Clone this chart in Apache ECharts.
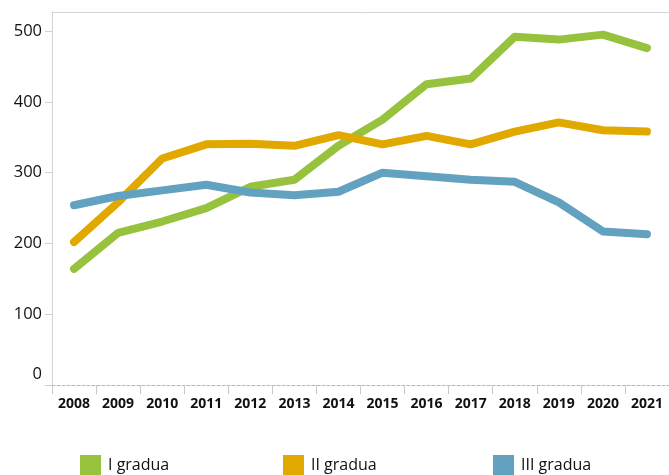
<!DOCTYPE html>
<html>
<head>
<meta charset="utf-8">
<script src="https://cdn.jsdelivr.net/npm/echarts@6/dist/echarts.min.js"></script>
<style>
  html, body { margin: 0; padding: 0; background: #fff; }
  #chart { width: 669px; height: 475px; }
</style>
</head>
<body>
<div id="chart"></div>
<script>
let years = ['2008', '2009', '2010', '2011', '2012', '2013', '2014', '2015', '2016', '2017', '2018', '2019', '2020', '2021']
let gradeI = [164, 215, 231, 250, 280, 290, 338, 375, 425, 433, 492, 488, 495, 476]
let gradeII = [202, 258, 320, 340, 341, 338, 353, 340, 352, 340, 358, 371, 360, 358]
let gradeIII = [254, 267, 275, 283, 272, 268, 273, 300, 295, 290, 287, 258, 217, 213]
let yTicks = [0, 100, 200, 300, 400, 500]

let seriesNames = ['I gradua', 'II gradua', 'III gradua']
let colorPalette = ['#97c23d', '#e1a900', '#62a2c0']

let font = 'Open Sans'

function lineSeries(name, values, color) {
  return {
    name: name,
    type: 'line',
    data: values,
    symbol: 'none',
    color: color,
    lineStyle: { width: 8, color: color, cap: 'round', join: 'round' },
    z: 3
  }
}

function legendAt(left, name) {
  return {
    left: left,
    top: 455,
    data: [name],
    icon: 'rect',
    itemWidth: 21,
    itemHeight: 21,
    itemGap: 0,
    padding: 0,
    textStyle: { fontFamily: font, fontSize: 16, color: '#111', padding: [3, 0, 0, 2] }
  }
}

let option = {
  animation: false,
  grid: { left: 52, right: 0, top: 12, bottom: 90 },
  legend: [
    legendAt(80, seriesNames[0]),
    legendAt(283, seriesNames[1]),
    legendAt(493, seriesNames[2])
  ],
  xAxis: [
    {
      type: 'category',
      data: years,
      boundaryGap: true,
      axisLine: { lineStyle: { color: '#b5b5b5', type: [3, 2], width: 1 } },
      axisTick: { show: true, length: 9, lineStyle: { color: '#c8c8c8' } },
      axisLabel: { fontFamily: font, fontSize: 14, fontWeight: 'bold', color: '#111', margin: 12 }
    },
    {
      type: 'category',
      data: years,
      position: 'top',
      axisLine: { show: true, lineStyle: { color: '#d4d4d4', width: 1 } },
      axisTick: { show: false },
      axisLabel: { show: false }
    }
  ],
  yAxis: {
    type: 'value',
    min: yTicks[0],
    max: 527,
    interval: 100,
    axisLine: { show: true, lineStyle: { color: '#d4d4d4', width: 1 } },
    axisTick: { show: true, length: 7, lineStyle: { color: '#cfcfcf' } },
    splitLine: { show: false },
    axisLabel: {
      fontFamily: font,
      fontSize: 16.5,
      color: '#111',
      margin: 10,
      showMaxLabel: false,
      formatter: (v) => v === 0 ? '{zero|0}' : String(v),
      rich: { zero: { fontFamily: font, fontSize: 16.5, color: '#111', padding: [0, 0, 22, 0] } }
    }
  },
  series: [
    lineSeries(seriesNames[0], gradeI, colorPalette[0]),
    lineSeries(seriesNames[1], gradeII, colorPalette[1]),
    lineSeries(seriesNames[2], gradeIII, colorPalette[2])
  ]
}

let chart = echarts.init(document.getElementById('chart'))
chart.setOption(option)
</script>
</body>
</html>
